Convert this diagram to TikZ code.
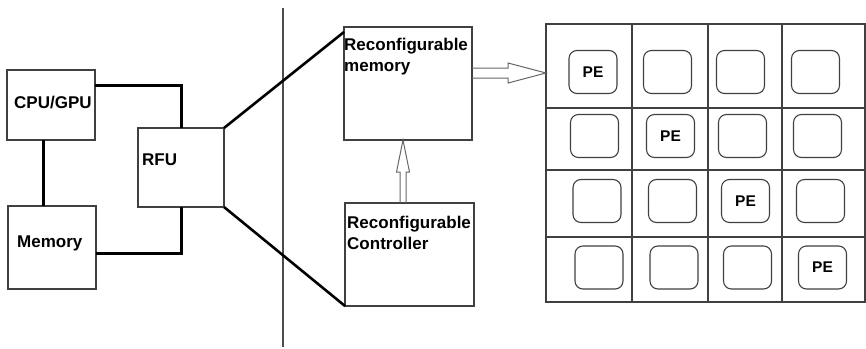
\documentclass[tikz,border=0pt]{standalone}
\usepackage{fontspec}
\setmainfont{Liberation Sans}
\usetikzlibrary{calc}
\begin{document}
\begin{tikzpicture}[x=1pt,y=-1pt,
  box/.style={draw=black!75, line width=1.3pt, inner sep=0pt, outer sep=0pt},
  wire/.style={draw=black, line width=3pt},
  thin/.style={draw=black!70, line width=1.2pt},
  txt/.style={font=\fontsize{17}{21.5}\selectfont\bfseries, inner sep=0pt, align=left},
  pe/.style={draw=black!75, line width=1.1pt, rounded corners=8pt,
             minimum width=48pt, minimum height=43pt, inner sep=0pt,
             font=\fontsize{15.5}{18}\selectfont\bfseries},
  hollow/.style={draw=black!60, line width=1pt, line join=miter}]

% page frame
\useasboundingbox (0,0) rectangle (866,348);

% host side blocks
\node[box, minimum width=88pt, minimum height=70pt] (cpu) at (51,105) {};
\node[box, minimum width=88pt, minimum height=83pt] (mem) at (52,247.5) {};
\node[box, minimum width=86pt, minimum height=79pt] (rfu) at (181,167.5) {};
\node[txt, anchor=west] (cpul) at (14,103) {CPU/GPU};
\node[txt, anchor=west] (meml) at (17,243) {Memory};
\node[txt, anchor=west] (rfal) at (142,160) {RFU};

% host buses
\draw[wire] ($(cpu.north east)+(0,15)$) -| (rfu.north);
\draw[wire] ($(cpu.south west)+(36,0)$) -- ($(mem.north west)+(35,0)$);
\draw[wire] ($(mem.south east)+(0,-36)$) -| (rfu.south);

% separator
\coordinate (sepT) at (283,8);
\coordinate (sepB) at (283,347);
\draw[thin] (sepT) -- (sepB);

% RFU internals
\node[box, minimum width=128pt, minimum height=113pt] (rmem) at (408,83.5) {};
\node[box, minimum width=129pt, minimum height=103pt] (rctl) at (409.5,254.5) {};
\node[txt, anchor=north west] (rmeml) at (344,37.5) {Reconfigurable\\memory};
\node[txt, anchor=north west] (rctll) at (347,215.5) {Reconfigurable\\Controller};

% zoom lines
\draw[wire, line width=2.6pt] (rfu.north east) -- ($(rmem.north west)+(0,5)$);
\draw[wire, line width=2.6pt] (rfu.south east) -- (rctl.south west);

% PE array
\node[box, minimum width=319pt, minimum height=278pt] (grid) at (705.5,163) {};
\foreach \x in {632,708,782}
  \draw[thin, draw=black!75, line width=1.3pt] (\x,24) -- (\x,302);
\foreach \y in {108,170,237}
  \draw[thin, draw=black!75, line width=1.3pt] (546,\y) -- (865,\y);

\node[pe] (p11) at (593,72) {PE};
\node[pe] (p12) at (667.5,72) {};
\node[pe] (p13) at (740.5,72) {};
\node[pe] (p14) at (815.5,72) {};
\node[pe] (p21) at (594.5,136) {};
\node[pe] (p22) at (670.5,136) {PE};
\node[pe] (p23) at (742.5,136) {};
\node[pe] (p24) at (817.5,136) {};
\node[pe] (p31) at (597,201) {};
\node[pe] (p32) at (672.5,201) {};
\node[pe] (p33) at (745.5,201) {PE};
\node[pe] (p34) at (820.5,201) {};
\node[pe] (p41) at (599,267.5) {};
\node[pe] (p42) at (674,267.5) {};
\node[pe] (p43) at (747.5,267.5) {};
\node[pe] (p44) at (822.5,267.5) {PE};

% block arrow: memory -> array
\coordinate (a0) at ($(rmem.east)+(0,-10.5)$);
\draw[hollow] ($(a0)+(0,-5)$) -- ++(36,0) -- ++(0,-5) -- (a0 -| grid.west)
  -- ($(a0)+(36,10)$) -- ++(0,-5) -- ($(a0)+(0,5)$);

% block arrow: controller -> memory
\coordinate (b0) at ($(rctl.north)+(-6.5,0)$);
\draw[hollow] ($(b0)+(-3,0)$) -- ++(0,-31) -- ++(-3.5,0) -- (b0 |- rmem.south)
  -- ($(b0)+(6.5,-31)$) -- ++(-3.5,0) -- ($(b0)+(3,0)$);

\end{tikzpicture}
\end{document}
